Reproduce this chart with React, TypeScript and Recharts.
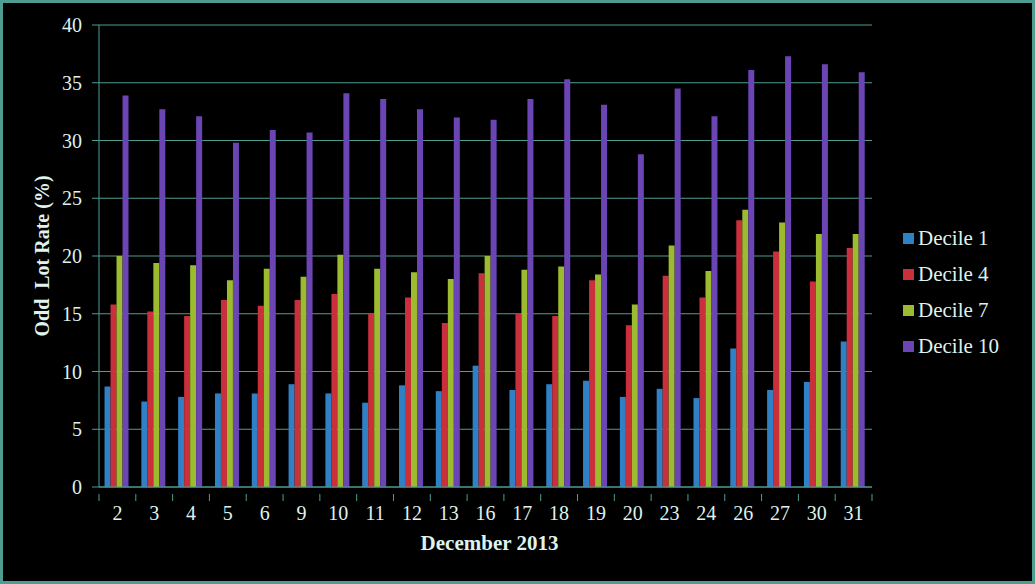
import { BarChart, Bar, XAxis, YAxis, CartesianGrid } from 'recharts'

const days = ['2', '3', '4', '5', '6', '9', '10', '11', '12', '13', '16', '17', '18', '19', '20', '23', '24', '26', '27', '30', '31']
const decile1 = [8.7, 7.4, 7.8, 8.1, 8.1, 8.9, 8.1, 7.3, 8.8, 8.3, 10.5, 8.4, 8.9, 9.2, 7.8, 8.5, 7.7, 12.0, 8.4, 9.1, 12.6]
const decile4 = [15.8, 15.2, 14.8, 16.2, 15.7, 16.2, 16.7, 15.0, 16.4, 14.2, 18.5, 15.0, 14.8, 17.9, 14.0, 18.3, 16.4, 23.1, 20.4, 17.8, 20.7]
const decile7 = [20.0, 19.4, 19.2, 17.9, 18.9, 18.2, 20.1, 18.9, 18.6, 18.0, 20.0, 18.8, 19.1, 18.4, 15.8, 20.9, 18.7, 24.0, 22.9, 21.9, 21.9]
const decile10 = [33.9, 32.7, 32.1, 29.8, 30.9, 30.7, 34.1, 33.6, 32.7, 32.0, 31.8, 33.6, 35.3, 33.1, 28.8, 34.5, 32.1, 36.1, 37.3, 36.6, 35.9]
const yTicks = [0, 5, 10, 15, 20, 25, 30, 35, 40]

const series = [
  { key: 'd1',  name: 'Decile 1',  color: '#2f80c4', values: decile1 },
  { key: 'd4',  name: 'Decile 4',  color: '#c9303c', values: decile4 },
  { key: 'd7',  name: 'Decile 7',  color: '#9cbb2e', values: decile7 },
  { key: 'd10', name: 'Decile 10', color: '#6c45b5', values: decile10 },
]

const data = days.map((day, i) => {
  const row: Record<string, string | number> = { day }
  series.forEach(s => { row[s.key] = s.values[i] })
  return row
})

const TEXT = '#dff2ee'
const GRID = '#4f9d91'
const FONT = '"Liberation Serif", "Times New Roman", serif'

const PLOT_LEFT = 99
const PLOT_RIGHT = 872
const BAND = (PLOT_RIGHT - PLOT_LEFT) / days.length

// category labels, with the tick marks drawn on the category boundaries
function DayTick({ x, y, payload, index }: any) {
  const half = BAND / 2
  return (
    <g>
      <line x1={x - half} x2={x - half} y1={y - 1} y2={y + 6} stroke={GRID} strokeWidth={1} />
      {index === days.length - 1 && (
        <line x1={x + half} x2={x + half} y1={y - 1} y2={y + 6} stroke={GRID} strokeWidth={1} />
      )}
      <text x={x} y={y + 25} textAnchor="middle" fill={TEXT} fontSize={20} fontFamily={FONT}>
        {payload.value}
      </text>
    </g>
  )
}

function YTitle({ viewBox }: any) {
  const cy = viewBox.y + viewBox.height / 2
  return (
    <text
      x={49} y={cy} transform={`rotate(-90, 49, ${cy})`}
      textAnchor="middle" fill={TEXT} fontSize={20} fontWeight="bold" fontFamily={FONT}
    >
      {'Odd\u00a0 Lot Rate (%)'}
    </text>
  )
}

function XTitle({ viewBox }: any) {
  const cx = viewBox.x + viewBox.width / 2
  return (
    <text x={cx + 4} y={550} textAnchor="middle" fill={TEXT} fontSize={21} fontWeight="bold" fontFamily={FONT}>
      December 2013
    </text>
  )
}

function LegendBox() {
  return (
    <div style={{ position: 'absolute', left: 903, top: 220, fontFamily: FONT, fontSize: 21, color: TEXT }}>
      {series.map(s => (
        <div key={s.key} style={{ display: 'flex', alignItems: 'center', height: 36 }}>
          <span style={{ display: 'inline-block', width: 11, height: 11, background: s.color, marginRight: 4 }} />
          <span>{s.name}</span>
        </div>
      ))}
    </div>
  )
}

export default function App() {
  return (
    <div
      style={{
        position: 'absolute', top: 0, left: 0,
        width: 1035, height: 584, background: '#000',
        boxSizing: 'border-box', border: `3px solid ${GRID}`,
      }}
    >
      <div style={{ position: 'absolute', top: -3, left: -3, width: 1035, height: 584 }}>
        <BarChart
          width={1035} height={584} data={data}
          margin={{ top: 25, right: 163, left: 0, bottom: 0 }}
          barCategoryGap="15%" barGap={0}
        >
          <CartesianGrid vertical={false} stroke={GRID} strokeWidth={1.2} />
          <XAxis
            dataKey="day"
            axisLine={{ stroke: GRID }}
            tickLine={false}
            tick={<DayTick />}
            interval={0}
            height={97}
            label={<XTitle />}
          />
          <YAxis
            domain={[0, 40]}
            ticks={yTicks}
            width={99}
            axisLine={{ stroke: GRID }}
            tickLine={{ stroke: GRID }}
            tickSize={7}
            tickMargin={10}
            tick={{ fill: TEXT, fontSize: 20, fontFamily: FONT }}
            label={<YTitle />}
          />
          {series.map(s => (
            <Bar key={s.key} dataKey={s.key} name={s.name} fill={s.color} isAnimationActive={false} />
          ))}
        </BarChart>
        <LegendBox />
      </div>
    </div>
  )
}
